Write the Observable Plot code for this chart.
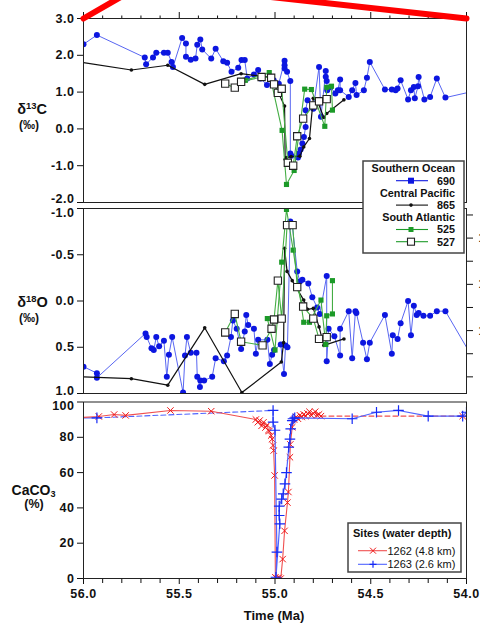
<!DOCTYPE html>
<html><head><meta charset="utf-8">
<script src="https://cdn.jsdelivr.net/npm/d3@7"></script>
<script src="https://cdn.jsdelivr.net/npm/@observablehq/plot@0.6"></script>
<style>
body{margin:0;background:#fff;}
#wrap{position:relative;width:480px;height:626px;overflow:hidden;background:#fff;font-family:'Liberation Sans',Arial,Helvetica,sans-serif;color:#111;}
#wrap > svg.plotsvg{position:absolute;left:0;}
.lab{position:absolute;font-weight:bold;white-space:nowrap;transform:translate(-50%,-50%);line-height:1;}
.lab sup{font-size:65%;vertical-align:0.55em;}
.lab sub{font-size:65%;vertical-align:-0.2em;}
</style></head>
<body><div id="wrap"></div>
<script>
// ---------- data (age in Ma, value) ----------
const d13C_690 = [[56.0,2.30],[55.93,2.55],[55.68,1.94],[55.673,1.76],[55.637,1.94],[55.62,2.07],[55.58,2.07],[55.56,2.07],[55.54,1.82],[55.533,1.68],[55.485,2.47],[55.465,2.32],[55.465,1.96],[55.44,1.88],[55.415,1.91],[55.406,2.29],[55.39,2.43],[55.38,2.16],[55.333,1.91],[55.31,2.18],[55.27,1.84],[55.25,1.80],[55.227,1.55],[55.192,1.66],[55.175,1.87],[55.158,1.87],[55.145,1.37],[55.11,1.48],[55.088,1.60],[55.076,1.37],[55.042,1.19],[55.007,1.32],[54.98,1.23],[54.95,1.85],[54.95,1.73],[54.95,1.64],[54.937,1.55],[54.92,1.30],[54.92,-0.67],[54.915,-0.73],[54.88,-0.78],[54.875,-0.67],[54.866,-0.56],[54.857,-0.40],[54.849,-0.22],[54.84,0.05],[54.84,0.51],[54.83,0.78],[54.80,0.55],[54.77,1.68],[54.76,0.33],[54.735,1.57],[54.735,1.42],[54.73,1.30],[54.727,1.05],[54.71,1.14],[54.685,0.96],[54.672,1.05],[54.66,1.34],[54.66,1.05],[54.615,0.87],[54.597,1.05],[54.58,1.25],[54.574,0.92],[54.536,1.05],[54.52,1.39],[54.505,1.82],[54.426,1.07],[54.39,1.07],[54.37,1.05],[54.36,1.10],[54.344,1.32],[54.305,0.80],[54.29,1.05],[54.275,1.14],[54.27,0.83],[54.253,1.16],[54.25,1.41],[54.22,0.80],[54.19,0.87],[54.155,1.37],[54.11,0.85],[54.0,0.98]];
const d13C_865 = [[56.0,1.80],[55.75,1.60],[55.56,1.73],[55.367,1.21],[55.177,1.50],[55.02,1.40],[54.95,0.62],[54.947,-0.83],[54.94,-0.78],[54.916,-0.75],[54.87,-0.74],[54.85,-0.49],[54.82,-0.26],[54.80,0.83],[54.78,0.78],[54.745,0.31],[54.73,0.42],[54.64,0.79]];
const d13C_525 = [[55.155,1.32],[55.03,1.53],[54.963,-0.04],[54.94,-1.51],[54.90,-1.13],[54.845,1.08],[54.81,1.07],[54.74,0.07],[54.73,1.13],[54.705,1.16],[54.70,0.51]];
const d13C_527 = [[55.26,1.23],[55.21,1.12],[55.177,1.28],[55.07,1.41],[55.02,1.39],[55.005,1.21],[54.985,0.98],[54.965,1.09],[54.933,-0.92],[54.905,-1.00],[54.884,-0.20],[54.853,0.28],[54.80,0.64],[54.77,0.75],[54.73,0.81]];

const d18O_690 = [[56.0,0.71],[55.93,0.78],[55.93,0.83],[55.676,0.35],[55.67,0.39],[55.645,0.51],[55.633,0.53],[55.62,0.39],[55.605,0.49],[55.58,0.43],[55.565,0.82],[55.554,0.58],[55.537,0.39],[55.48,0.99],[55.47,0.59],[55.46,0.39],[55.44,0.56],[55.41,0.56],[55.406,0.82],[55.392,0.93],[55.39,0.86],[55.37,0.86],[55.328,0.82],[55.31,0.62],[55.267,0.65],[55.25,0.59],[55.23,0.39],[55.22,0.21],[55.2,0.30],[55.177,0.52],[55.158,0.33],[55.15,0.15],[55.14,0.26],[55.11,0.30],[55.10,0.57],[55.088,0.42],[55.04,0.42],[55.027,0.68],[55.015,0.58],[55.005,0.53],[54.97,0.47],[54.953,0.79],[54.945,0.48],[54.935,0.50],[54.92,-0.86],[54.91,-0.83],[54.884,-0.32],[54.87,-0.21],[54.857,-0.23],[54.826,-0.19],[54.805,-0.04],[54.78,0.07],[54.766,0.14],[54.73,-0.27],[54.73,0.65],[54.72,0.30],[54.69,0.38],[54.66,0.59],[54.66,0.30],[54.615,0.11],[54.597,0.62],[54.58,0.11],[54.575,0.13],[54.54,0.45],[54.52,0.63],[54.505,0.45],[54.426,0.15],[54.39,0.57],[54.385,0.37],[54.36,0.41],[54.344,0.24],[54.305,0.0],[54.29,0.37],[54.275,0.05],[54.26,0.15],[54.25,0.13],[54.225,0.16],[54.19,0.16],[54.155,0.11],[54.11,0.11],[54.0,0.50]];
const d18O_865 = [[56.0,0.82],[55.75,0.84],[55.56,0.91],[55.367,0.29],[55.173,0.99],[54.967,0.66],[54.955,0.45],[54.95,-0.57],[54.937,-0.32],[54.91,-0.22],[54.85,-0.01],[54.83,0.09],[54.80,0.08],[54.77,0.28],[54.745,0.48],[54.64,0.41]];
const d18O_525 = [[55.04,0.19],[55.0,0.53],[54.965,-0.42],[54.94,-0.99],[54.905,-0.55],[54.85,0.23],[54.82,0.23],[54.76,-0.01],[54.735,0.47],[54.73,0.16],[54.70,0.14],[54.70,-0.22]];
const d18O_527 = [[55.26,0.34],[55.21,0.14],[55.177,0.44],[55.065,0.48],[55.018,0.30],[55.005,0.20],[54.985,-0.22],[54.965,0.19],[54.937,-0.82],[54.908,-0.82],[54.884,-0.15],[54.853,0.06],[54.80,0.19],[54.77,0.41],[54.73,0.39]];

const caco3_1262 = [[56.0,91.3],[55.92,91.8],[55.84,92.9],[55.78,92.4],[55.546,95.2],[55.333,94.8],[55.10,90.1],[55.09,88.5],[55.08,89.5],[55.07,86.5],[55.06,88.5],[55.05,85.5],[55.04,87],[55.035,84],[55.03,83.5],[55.02,81],[55.015,79],[55.01,75.4],[55.007,72.5],[55.002,58.4],[54.998,0.7],[54.99,0],[54.98,0.5],[54.97,0],[54.96,11],[54.95,27],[54.935,43],[54.93,49],[54.922,68.7],[54.92,76],[54.91,85.7],[54.9,90],[54.89,91.5],[54.88,90.5],[54.87,92.5],[54.86,91.5],[54.85,93],[54.84,92],[54.83,93.5],[54.82,94.5],[54.81,92.5],[54.8,93.5],[54.79,94.5],[54.78,92.5],[54.77,93],[54.76,92]];
const caco3_1262_gap = [[54.76,92],[54.02,92],[54.0,92]];
const caco3_1263_start = [[56.0,91],[55.93,91]];
const caco3_1263_gap = [[55.93,91],[55.01,95.2]];
const caco3_1263 = [[55.01,95.2],[55.01,88.6],[55.0,84],[54.99,15],[54.995,0.7],[54.975,31],[54.978,35.7],[54.978,41],[54.965,45],[54.957,48],[54.948,53.6],[54.94,60],[54.928,74.4],[54.922,79],[54.918,84.8],[54.91,89.5],[54.906,90.5],[54.897,91],[54.597,90.5],[54.47,94.2],[54.355,95.2],[54.2,92],[54.02,92],[54.0,94.2]];

const redOverlay = [[56.0,3.0],[55.68,3.96],[54.0,3.0]];

const xMajor = [56.0,55.5,55.0,54.5,54.0];
const xMinor = [55.9,55.8,55.7,55.6,55.4,55.3,55.2,55.1,54.9,54.8,54.7,54.6,54.4,54.3,54.2,54.1];
const d13CTicks = [3,2,1,0,-1,-2];
const d18OTicks = [-1,-0.5,0,0.5,1];
const caTicks = [0,20,40,60,80,100];
const rightTicks = [-0.93,-0.68,-0.43,-0.18,0.07,0.32,0.57,0.82];
const rightLabels = ["","14","","12","","10","",""];

const regionNames = ["Southern Ocean","Central Pacific","South Atlantic"];
const siteNames = ["690","865","525","527"];
const caLegendTitle = "Sites (water depth)";
const caLegendNames = ["1262 (4.8 km)","1263 (2.6 km)"];

// ---------- styling ----------
const FONT = "'Liberation Sans', Arial, Helvetica, sans-serif";
const C = {blue:"#0c16e0", blueLine:"#5866f2", black:"#111", green:"#1c9a28", greenLine:"#44ad44",
           red:"#f01818", redLine:"#f05050", blue2:"#1428f5", blue2Line:"#5064ff"};
const W = 480;
const X = d => d[0], Y = d => d[1];
const f1 = d => d.toFixed(1);
const baseStyle = {fontFamily: FONT, fontSize: "12.5px", fontWeight: "bold", letterSpacing: "0.5px",
                   overflow: "visible", background: "transparent", color: "#111"};
const rightMap = new Map(rightTicks.map((t,i)=>[t,rightLabels[i]]));

function isoMarks(s690, s865, s525, s527) {
  return [
    Plot.line(s690, {x:X, y:Y, stroke:C.blueLine, strokeWidth:1, clip:true}),
    Plot.dot(s690.filter(d=>d[0]>54.001), {x:X, y:Y, r:3, fill:C.blue, stroke:"none", clip:true}),
    Plot.line(s865, {x:X, y:Y, stroke:C.black, strokeWidth:1.2, clip:true}),
    Plot.dot(s865.filter(d=>d[0]<55.999), {x:X, y:Y, r:1.8, fill:C.black, stroke:"none", clip:true}),
    Plot.line(s525, {x:X, y:Y, stroke:C.greenLine, strokeWidth:1.1, clip:true}),
    Plot.dot(s525, {x:X, y:Y, symbol:"square", r:2.9, fill:C.green, stroke:"none", clip:true}),
    Plot.line(s527, {x:X, y:Y, stroke:C.greenLine, strokeWidth:1.1, clip:true}),
    Plot.dot(s527, {x:X, y:Y, symbol:"square", r:4.1, fill:"white", stroke:"#222", strokeWidth:1.1, clip:true})
  ];
}

const p1 = Plot.plot({
  width: W, height: 204, marginLeft: 83, marginRight: 14, marginTop: 18, marginBottom: 2,
  style: baseStyle,
  x: {domain: [56, 54]}, y: {domain: [-2, 3]},
  marks: [
    Plot.axisX(xMajor, {anchor:"top", tickSize:7, tickFormat:()=>"", label:null}),
    Plot.axisX(xMinor, {anchor:"top", tickSize:3.5, tickFormat:()=>"", label:null}),
    Plot.axisY(d13CTicks, {anchor:"left", tickSize:6, tickPadding:3, tickFormat:d=>d===-2?"":f1(d), label:null}),
    Plot.text(d13CTicks.filter(t=>t===-2), {y:d=>d, text:f1, frameAnchor:"left", textAnchor:"end", dx:-9, dy:-3.5}),
    ...isoMarks(d13C_690, d13C_865, d13C_525, d13C_527),
    Plot.frame({stroke:"#222"}),
    Plot.line(redOverlay, {x:X, y:Y, stroke:"#ff0000", strokeWidth:6, clip:false})
  ]
});

const p2 = Plot.plot({
  width: W, height: 199, marginLeft: 83, marginRight: 14, marginTop: 8, marginBottom: 6,
  style: baseStyle,
  x: {domain: [56, 54], axis: null}, y: {domain: [-1, 1], reverse: true},
  marks: [
    Plot.axisY(d18OTicks, {anchor:"left", tickSize:6, tickPadding:3, tickFormat:d=>(d===-1||d===1)?"":f1(d), label:null}),
    Plot.text(d18OTicks.filter(t=>t===-1), {y:d=>d, text:f1, frameAnchor:"left", textAnchor:"end", dx:-9, dy:4}),
    Plot.text(d18OTicks.filter(t=>t===1), {y:d=>d, text:f1, frameAnchor:"left", textAnchor:"end", dx:-9, dy:-3}),
    Plot.axisY(rightTicks, {anchor:"right", tickSize:6, tickPadding:6, tickFormat:d=>rightMap.get(d) ?? "", label:null}),
    ...isoMarks(d18O_690, d18O_865, d18O_525, d18O_527),
    Plot.frame({stroke:"#222"})
  ]
});

const p3 = Plot.plot({
  width: W, height: 230, marginLeft: 83, marginRight: 14, marginTop: 5.5, marginBottom: 48,
  style: baseStyle,
  x: {domain: [56, 54]}, y: {domain: [0, 100]},
  marks: [
    Plot.axisX(xMajor, {anchor:"bottom", tickSize:6, tickPadding:5, tickFormat:f1, label:null}),
    Plot.axisX(xMinor, {anchor:"bottom", tickSize:5, tickFormat:()=>"", label:null}),
    Plot.axisY(caTicks, {anchor:"left", tickSize:6, tickPadding:3, tickFormat:d=>d===100?"":String(d), label:null}),
    Plot.text(caTicks.filter(t=>t===100), {y:d=>d, text:d=>String(d), frameAnchor:"left", textAnchor:"end", dx:-9, dy:3.5}),
    Plot.line(caco3_1263_start, {x:X, y:Y, stroke:C.blue2Line, strokeWidth:1.1, clip:true}),
    Plot.line(caco3_1263_gap, {x:X, y:Y, stroke:C.blue2Line, strokeWidth:1.1, strokeDasharray:"5,3", clip:true}),
    Plot.line(caco3_1262_gap, {x:X, y:Y, stroke:C.redLine, strokeWidth:1.1, strokeDasharray:"5,3", clip:true}),
    Plot.line(caco3_1262, {x:X, y:Y, stroke:C.redLine, strokeWidth:1.1, clip:true}),
    Plot.dot(caco3_1262.slice(1).concat([caco3_1262_gap[1]]), {x:X, y:Y, symbol:"times", r:3, stroke:C.red, strokeWidth:1, clip:true}),
    Plot.line(caco3_1263, {x:X, y:Y, stroke:C.blue2Line, strokeWidth:1.2, clip:true}),
    Plot.dot(caco3_1263.concat([caco3_1263_start[1]]), {x:X, y:Y, symbol:"plus", r:3.5, stroke:C.blue2, strokeWidth:1.2, clip:true}),
    Plot.frame({stroke:"#222"})
  ]
});

const wrap = document.getElementById("wrap");
[[p1,0],[p2,200],[p3,396]].forEach(([p,top])=>{
  p.classList.add("plotsvg"); p.style.position="absolute"; p.style.top = top+"px"; p.style.left="0px";
  wrap.appendChild(p);
});

// axis titles
function addLab(html, x, y, size){
  const d = document.createElement("div"); d.className="lab"; d.innerHTML = html;
  d.style.left = x+"px"; d.style.top = y+"px"; d.style.fontSize = size+"px"; wrap.appendChild(d);
}
addLab("&delta;<sup>13</sup>C", 32, 109, 14.5);
addLab("(&permil;)", 29, 125, 12);
addLab("&delta;<sup>18</sup>O", 32.5, 302, 14.5);
addLab("(&permil;)", 29, 318, 12);
addLab("CaCO<sub>3</sub>", 33.5, 491, 14);
addLab("(%)", 34, 504, 12.5);
addLab("Time (Ma)", 274, 615, 13);

// legends overlay
const ov = d3.select(wrap).append("svg").attr("width",W).attr("height",626)
  .style("position","absolute").style("left","0px").style("top","0px").style("font-family",FONT);

// top legend
const g1 = ov.append("g");
g1.append("rect").attr("x",363).attr("y",161).attr("width",101).attr("height",92)
  .attr("fill","white").attr("stroke","#444").attr("stroke-width",1.5);
const rows = [
  {t:regionNames[0]}, {t:siteNames[0], k:"690"},
  {t:regionNames[1]}, {t:siteNames[1], k:"865"},
  {t:regionNames[2]}, {t:siteNames[2], k:"525"}, {t:siteNames[3], k:"527"}
];
rows.forEach((r,i)=>{
  const y = 168.5 + i*12.2;
  g1.append("text").attr("x",455).attr("y",y).attr("dy","0.36em").attr("text-anchor","end")
    .attr("font-size",10.8).attr("font-weight","bold").attr("fill","#111").text(r.t);
  if (!r.k) return;
  const col = r.k==="690"?C.blue:(r.k==="865"?C.black:C.green);
  g1.append("line").attr("x1",396).attr("x2",428).attr("y1",y).attr("y2",y).attr("stroke",col).attr("stroke-width",1.1);
  if (r.k==="690") g1.append("rect").attr("x",408).attr("y",y-3).attr("width",6).attr("height",6).attr("fill",C.blue);
  if (r.k==="865") g1.append("circle").attr("cx",411).attr("cy",y).attr("r",1.8).attr("fill",C.black);
  if (r.k==="525") g1.append("rect").attr("x",408.5).attr("y",y-2.5).attr("width",5).attr("height",5).attr("fill",C.green);
  if (r.k==="527") g1.append("rect").attr("x",407.5).attr("y",y-3.5).attr("width",7).attr("height",7).attr("fill","white").attr("stroke","#222").attr("stroke-width",1.1);
});

// bottom legend
const g2 = ov.append("g");
g2.append("rect").attr("x",348).attr("y",523).attr("width",113).attr("height",49)
  .attr("fill","white").attr("stroke","#444").attr("stroke-width",1.5);
g2.append("text").attr("x",353).attr("y",533).attr("dy","0.36em").attr("font-size",11).attr("font-weight","bold")
  .attr("fill","#111").text(caLegendTitle);
caLegendNames.forEach((nm,i)=>{
  const y = 550.7 + i*13.6;
  const col = i===0?C.red:C.blue2;
  g2.append("line").attr("x1",358).attr("x2",387).attr("y1",y).attr("y2",y).attr("stroke",i===0?C.redLine:C.blue2Line).attr("stroke-width",1.1);
  if (i===0) {
    g2.append("path").attr("d",`M${370},${y-3}L${376},${y+3}M${370},${y+3}L${376},${y-3}`).attr("stroke",col).attr("stroke-width",1);
  } else {
    g2.append("path").attr("d",`M${369.5},${y}L${376.5},${y}M${373},${y-3.5}L${373},${y+3.5}`).attr("stroke",col).attr("stroke-width",1.2);
  }
  g2.append("text").attr("x",387.5).attr("y",y).attr("dy","0.36em").attr("font-size",11).attr("fill","#111").text(nm);
});
</script>
</body></html>
